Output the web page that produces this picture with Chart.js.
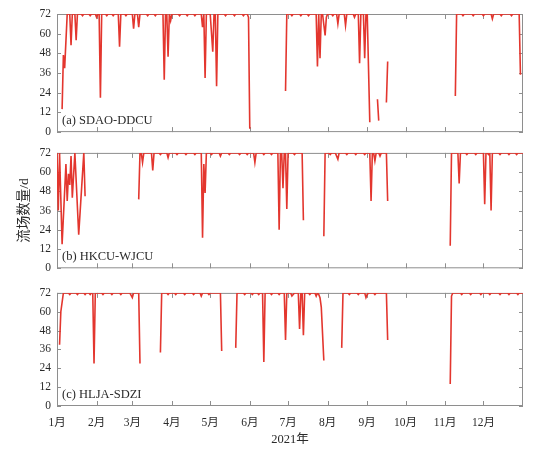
<!DOCTYPE html>
<html lang="zh">
<head>
<meta charset="UTF-8">
<title>流场数量</title>
<script src="https://cdn.jsdelivr.net/npm/chart.js"></script>
<style>
  html, body { margin: 0; padding: 0; background: #fff; }
  #wrap { position: relative; width: 545px; height: 454px; overflow: hidden; }
  #wrap canvas { position: absolute; left: 0; }
</style>
</head>
<body>
<div id="wrap">
  <canvas id="panelA" width="545" height="145" style="top:0px"></canvas>
  <canvas id="panelB" width="545" height="145" style="top:140px"></canvas>
  <canvas id="panelC" width="545" height="174" style="top:280px"></canvas>
</div>
<script>
// day of year (0 = 1 Jan) and number of flow fields per day; null marks a gap
const monthStarts = [0, 31, 59, 90, 120, 151, 181, 212, 243, 273, 304, 334];
const monthLabels = ['1月', '2月', '3月', '4月', '5月', '6月', '7月', '8月', '9月', '10月', '11月', '12月'];
const yTicks = [0, 12, 24, 36, 48, 60, 72];
const panelNames = ['(a) SDAO-DDCU', '(b) HKCU-WJCU', '(c) HLJA-SDZI'];

const daysA = [4,5,6,8,10,11,12,14,15,16,19,20,21,25,26,27,30,31,32,33,34,35,38,39,40,43,44,45,48,49,50,53,54,55,
  59,60,61,63,64,65,70,71,72,76,77,78,83,84,85,86,87,88,89,90,95,96,97,101,102,103,107,108,109,113,114,115,116,117,
  120,122,123,124,125,126,131,132,133,138,139,140,145,146,147,149,150,151,165,179,180,183,184,185,190,191,192,196,197,198,
  203,204,205,206,207,208,210,211,212,215,216,217,219,220,221,225,226,227,232,233,234,236,237,238,240,241,242,243,245,
  248,251,252,255,258,259,285,312,313,317,318,319,325,326,327,333,334,335,340,341,342,347,348,349,355,356,357,362,363];
const flowA = [14,47,39,72,72,53,72,72,56,72,72,71,72,72,71,72,72,70,72,72,21,72,72,71,72,72,71,72,72,52,72,72,71,72,
  72,63,72,72,64,72,72,71,72,72,71,72,72,32,72,72,46,72,68,72,72,71,72,72,71,72,72,71,72,72,64,72,33,72,
  72,49,72,72,28,72,72,71,72,72,71,72,72,71,72,72,70,2,null,25,72,72,71,72,72,71,72,72,71,72,
  72,40,72,45,72,72,59,70,72,72,71,72,72,66,72,72,65,72,72,70,72,72,42,72,72,45,72,72,6,
  null,20,7,null,18,43,null,22,72,72,71,72,72,71,72,72,71,72,72,69,72,72,71,72,72,71,72,72,35];

const daysB = [0,1,2,4,7,8,9,10,11,12,14,17,21,22,40,64,65,66,67,68,74,75,76,80,81,82,86,87,88,93,94,95,
  100,101,102,107,108,109,113,114,115,116,117,120,121,122,127,128,129,134,135,136,142,143,144,148,149,150,
  154,155,156,161,162,163,167,168,169,173,174,175,176,177,178,179,180,181,185,186,187,192,193,200,
  209,210,213,214,215,218,220,221,226,227,228,233,234,235,240,241,242,245,246,247,248,249,250,252,253,254,258,259,285,
  308,309,314,315,316,320,321,322,327,328,329,334,335,336,337,338,339,340,341,346,347,348,353,354,355,359,360,361,365];
const flowB = [72,36,72,15,65,42,59,52,70,44,72,21,72,45,null,43,72,72,66,72,72,61,72,72,71,72,72,69,72,72,71,72,
  72,71,72,72,71,72,72,19,65,47,72,72,71,72,72,70,72,72,71,72,72,71,72,72,71,72,
  72,66,72,72,71,72,72,71,72,72,24,72,72,50,72,72,37,72,72,71,72,72,30,null,
  20,72,72,71,72,72,68,72,72,71,72,72,71,72,72,71,72,72,42,72,72,67,72,72,70,72,72,42,null,
  14,72,72,53,72,72,71,72,72,71,72,72,40,72,72,71,72,36,72,72,71,72,72,71,72,72,71,72,72];

const daysC = [2,3,5,9,10,11,15,16,17,21,22,23,25,26,27,28,29,30,35,36,37,42,43,44,49,50,51,57,59,60,64,65,73,
  81,82,86,87,88,92,93,94,99,100,101,106,107,108,112,113,114,118,119,120,128,129,135,
  140,141,146,147,148,152,153,154,157,158,159,161,162,163,167,168,169,173,174,175,178,179,180,183,184,185,186,
  189,190,191,192,193,194,197,198,199,202,203,204,205,206,207,209,216,
  223,224,228,229,230,235,236,237,241,242,243,244,248,249,250,258,259,285,
  308,309,310,316,317,318,323,324,325,331,332,333,338,339,340,346,347,348,353,354,355,360,361,362,365];
const flowC = [39,60,72,72,71,72,72,71,72,72,71,72,72,71,72,72,27,72,72,71,72,72,71,72,72,71,72,72,69,72,72,27,null,
  34,72,72,71,72,72,71,72,72,71,72,72,71,72,72,70,72,72,71,72,72,35,null,
  37,72,72,71,72,72,71,72,72,71,72,72,28,72,72,71,72,72,71,72,72,42,72,72,70,71,72,
  72,49,72,72,45,72,72,71,72,72,70,72,71,69,63,29,null,
  37,72,72,71,72,72,71,72,72,69,71,72,72,71,72,72,42,null,
  14,70,72,72,71,72,72,71,72,72,71,72,72,71,72,72,71,72,72,71,72,72,71,72,72];

const RED = '#e3362e';
const FRAME = '#8e8e8e';
const TEXT = '#2a2a2a';
const SERIF = '"Liberation Serif", "Noto Sans CJK SC", serif';

// box round the plot area with inward tick marks, plus the panel name
const framePlugin = {
  id: 'frame',
  beforeDatasetsDraw(chart) {
    const { ctx, chartArea: a, scales: { x, y } } = chart;
    ctx.save();
    ctx.strokeStyle = FRAME;
    ctx.lineWidth = 1;
    ctx.strokeRect(a.left + 0.5, a.top + 0.5, a.width - 1, a.height - 1);
    ctx.beginPath();
    yTicks.forEach(v => {
      const p = Math.round(y.getPixelForValue(v)) + 0.5;
      ctx.moveTo(a.left, p); ctx.lineTo(a.left + 4, p);
      ctx.moveTo(a.right, p); ctx.lineTo(a.right - 4, p);
    });
    monthStarts.forEach(v => {
      const p = Math.round(x.getPixelForValue(v)) + 0.5;
      ctx.moveTo(p, a.bottom); ctx.lineTo(p, a.bottom - 5);
      ctx.moveTo(p, a.top); ctx.lineTo(p, a.top + 5);
    });
    ctx.stroke();
    ctx.restore();
  },
  afterDatasetsDraw(chart, args, opts) {
    const { ctx, chartArea: a } = chart;
    ctx.save();
    ctx.font = '12.5px ' + SERIF;
    ctx.fillStyle = TEXT;
    ctx.textBaseline = 'alphabetic';
    ctx.fillText(opts.label, a.left + 5, a.bottom - 8.5);
    ctx.restore();
  }
};

function makePanel(id, days, flows, name, pad, isLast, yTitle) {
  const points = days.map((d, i) => ({ x: d, y: flows[i] }));
  return new Chart(document.getElementById(id), {
    type: 'line',
    data: {
      datasets: [{
        data: points,
        borderColor: RED,
        borderWidth: 1.6,
        pointRadius: 0,
        tension: 0,
        spanGaps: false
      }]
    },
    options: {
      responsive: false,
      animation: false,
      events: [],
      layout: { padding: pad },
      plugins: {
        legend: { display: false },
        tooltip: { enabled: false },
        frame: { label: name }
      },
      scales: {
        x: {
          type: 'linear',
          min: 0,
          max: 365,
          display: isLast,
          afterBuildTicks: s => { s.ticks = monthStarts.map(v => ({ value: v })); },
          afterFit: s => { if (isLast) s.height = 48; },
          grid: { display: false, drawTicks: false },
          border: { display: false },
          ticks: {
            padding: 10,
            maxRotation: 0,
            autoSkip: false,
            color: TEXT,
            font: { family: SERIF, size: 11.5 },
            callback: v => monthLabels[monthStarts.indexOf(v)]
          },
          title: {
            display: true,
            text: '2021年',
            color: TEXT,
            font: { family: SERIF, size: 12.5 },
            padding: { top: 0, bottom: 6.5 }
          }
        },
        y: {
          min: 0,
          max: 72,
          afterBuildTicks: s => { s.ticks = yTicks.map(v => ({ value: v })); },
          afterFit: s => { s.width = 57; },
          grid: { display: false, drawTicks: false },
          border: { display: false },
          ticks: {
            padding: 6,
            color: TEXT,
            font: { family: SERIF, size: 11.5 }
          },
          title: {
            display: !!yTitle,
            text: yTitle || '',
            color: TEXT,
            font: { family: SERIF, size: 13.5 },
            padding: { top: 16, bottom: 0 }
          }
        }
      }
    },
    plugins: [framePlugin]
  });
}

makePanel('panelA', daysA, flowA, panelNames[0], { top: 14, bottom: 11.7, left: 0, right: 22 }, false);
makePanel('panelB', daysB, flowB, panelNames[1], { top: 10, bottom: 16.7, left: 0, right: 22 }, false, '流场数量/d');
makePanel('panelC', daysC, flowC, panelNames[2], { top: 8, bottom: 0, left: 0, right: 22 }, true);
</script>
</body>
</html>
